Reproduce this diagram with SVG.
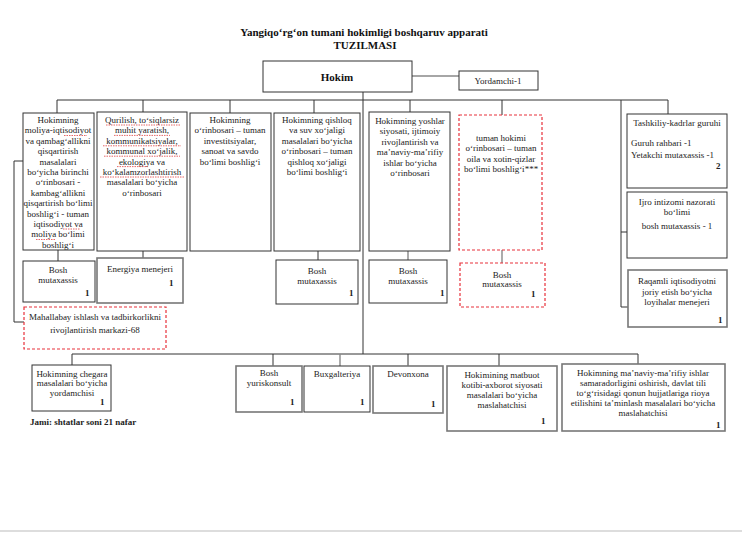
<svg xmlns="http://www.w3.org/2000/svg" width="742" height="533" viewBox="0 0 742 533">
<style>
text{font-family:"Liberation Serif","Times New Roman",serif;font-size:9px;fill:#222}
.c{text-anchor:middle}
.b{font-weight:bold}
.t{font-size:11px;font-weight:bold;text-anchor:middle;fill:#111}
.box{fill:#fff;stroke:#333;stroke-width:1}
.gbox{fill:#fff;stroke:#777;stroke-width:1.6}
.rbox{fill:#fff;stroke:#e8303a;stroke-width:1.2;stroke-dasharray:3 2}
.ln{fill:none;stroke:#333;stroke-width:1}
.gl{fill:none;stroke:#888;stroke-width:1.4}
.sq{fill:none;stroke:#e04040;stroke-width:0.8;stroke-dasharray:1.5 1}
</style>
<defs>
<clipPath id="cp1"><rect x="23" y="113" width="71" height="137"/></clipPath>
</defs>
<rect width="742" height="533" fill="#fff"/>
<line x1="0" y1="531" x2="742" y2="531" stroke="#bbb" stroke-width="1"/>

<g id="title">
<text class="t" x="364" y="36">Yangiqo‘rg‘on  tumani  hokimligi  boshqaruv  apparati</text>
<text class="t" x="365" y="49">TUZILMASI</text>
</g>

<g id="connectors">
<line class="gl" x1="412" y1="76" x2="459" y2="76"/>
<line class="ln" x1="363" y1="92" x2="363" y2="354"/>
<polyline class="ln" points="57,113 57,100 668,100 668,114"/>
<line class="ln" x1="143" y1="100" x2="143" y2="112"/>
<line class="ln" x1="230" y1="100" x2="230" y2="113"/>
<line class="ln" x1="314" y1="100" x2="314" y2="113"/>
<line class="ln" x1="410" y1="100" x2="410" y2="112"/>
<line class="ln" x1="502" y1="100" x2="502" y2="115"/>
<line class="ln" x1="621" y1="100" x2="621" y2="307"/>
<line class="ln" x1="621" y1="232" x2="627" y2="232"/>
<line class="ln" x1="621" y1="307" x2="628" y2="307"/>
<polyline class="ln" points="23,161 14,161 14,322 24,322"/>
<line class="ln" x1="58" y1="250" x2="58" y2="261"/>
<line class="ln" x1="143" y1="251" x2="143" y2="258"/>
<line class="ln" x1="318" y1="251" x2="318" y2="260"/>
<line class="gl" x1="408" y1="251" x2="408" y2="260"/>
<line class="gl" x1="502" y1="250" x2="502" y2="263"/>
<line class="ln" x1="72" y1="365" x2="72" y2="354"/>
<line class="ln" x1="72" y1="354" x2="638" y2="354"/>
<line class="ln" x1="273" y1="354" x2="273" y2="366"/>
<line class="gl" x1="340" y1="354" x2="340" y2="366"/>
<line class="ln" x1="408" y1="354" x2="408" y2="366"/>
<line class="ln" x1="499" y1="354" x2="499" y2="366"/>
<line class="ln" x1="638" y1="354" x2="638" y2="364"/>
</g>

<g id="hokim">
<rect class="box" x="263" y="61" width="149" height="31"/>
<text class="t" x="337" y="81">Hokim</text>
</g>
<g id="yordamchi">
<rect class="box" x="459" y="71" width="79" height="19"/>
<text class="c" x="498" y="84">Yordamchi-1</text>
</g>

<g id="col1">
<rect class="box" x="23" y="113" width="71" height="137"/>
<g clip-path="url(#cp1)">
<text class="c" x="58" y="123">Hokimning</text>
<text class="c" x="58" y="133.4">moliya-iqtisodiyot</text>
<text class="c" x="58" y="143.8">va qambag‘allikni</text>
<text class="c" x="58" y="154.2">qisqartirish</text>
<text class="c" x="58" y="164.6">masalalari</text>
<text class="c" x="58" y="175">bo‘yicha birinchi</text>
<text class="c" x="58" y="185.4">o‘rinbosari -</text>
<text class="c" x="58" y="195.8">kambag‘allikni</text>
<text class="c" x="58" y="206.2">qisqartirish bo‘limi</text>
<text class="c" x="58" y="216.6">boshlig‘i  - tuman</text>
<text class="c" x="58" y="227">iqtisodiyot va</text>
<text class="c" x="58" y="237.4">moliya bo‘limi</text>
<text class="c" x="58" y="247.8">boshlig‘i</text>
</g>
<line class="sq" x1="64" y1="135.5" x2="87" y2="135.5"/>
<line class="sq" x1="63" y1="229" x2="80" y2="229"/>
<line class="sq" x1="36" y1="239.5" x2="56" y2="239.5"/>
</g>

<g id="col2">
<rect class="box" x="97" y="112" width="90" height="139"/>
<text class="c" x="142" y="123">Qurilish,  to‘siqlarsiz</text>
<text class="c" x="142" y="133.4">muhit yaratish,</text>
<text class="c" x="142" y="143.8">kommunikatsiyalar,</text>
<text class="c" x="142" y="154.2">kommunal xo‘jalik,</text>
<text class="c" x="142" y="164.6">ekologiya va</text>
<text class="c" x="142" y="175">ko‘kalamzorlashtirish</text>
<text class="c" x="142" y="185.4">masalalari bo‘yicha</text>
<text class="c" x="142" y="195.8">o‘rinbosari</text>
<line class="sq" x1="106" y1="125" x2="180" y2="125"/>
<line class="sq" x1="114" y1="135.4" x2="170" y2="135.4"/>
<line class="sq" x1="103" y1="145.8" x2="181" y2="145.8"/>
<line class="sq" x1="104" y1="156.2" x2="180" y2="156.2"/>
<line class="sq" x1="117" y1="166.6" x2="148" y2="166.6"/>
<line class="sq" x1="100" y1="177" x2="185" y2="177"/>
</g>

<g id="col3">
<rect class="box" x="190" y="113" width="81" height="138"/>
<text class="c" x="230" y="123">Hokimning</text>
<text class="c" x="230" y="133.4">o‘rinbosari – tuman</text>
<text class="c" x="230" y="143.8">investitsiyalar,</text>
<text class="c" x="230" y="154.2">sanoat va savdo</text>
<text class="c" x="230" y="164.6">bo‘limi boshlig‘i</text>
</g>

<g id="col4">
<rect class="box" x="274" y="113" width="86" height="138"/>
<text class="c" x="317" y="123">Hokimning qishloq</text>
<text class="c" x="317" y="133.4">va suv xo‘jaligi</text>
<text class="c" x="317" y="143.8">masalalari bo‘yicha</text>
<text class="c" x="317" y="154.2">o‘rinbosari – tuman</text>
<text class="c" x="317" y="164.6">qishloq xo‘jaligi</text>
<text class="c" x="317" y="175">bo‘limi boshlig‘i</text>
</g>

<g id="col5">
<rect class="box" x="369" y="112" width="81" height="139"/>
<text class="c" x="410" y="124">Hokimning yoshlar</text>
<text class="c" x="410" y="134.4">siyosati, ijtimoiy</text>
<text class="c" x="410" y="144.8">rivojlantirish va</text>
<text class="c" x="410" y="155.2">ma’naviy-ma’rifiy</text>
<text class="c" x="410" y="165.6">ishlar bo‘yicha</text>
<text class="c" x="410" y="176">o‘rinbosari</text>
</g>

<g id="col6">
<rect class="rbox" x="459" y="115" width="83" height="135"/>
<text class="c" x="501" y="141">tuman hokimi</text>
<text class="c" x="501" y="151.4">o‘rinbosari  – tuman</text>
<text class="c" x="501" y="161.8">oila va xotin-qizlar</text>
<text class="c" x="501" y="172.2">bo‘limi  boshlig‘i***</text>
</g>

<g id="tashkiliy">
<rect class="box" x="627" y="114" width="100" height="74"/>
<text class="c" x="677" y="126">Tashkiliy-kadrlar guruhi</text>
<text x="631" y="146">Guruh rahbari -1</text>
<text x="631" y="158">Yetakchi mutaxassis -1</text>
<text class="b" x="716" y="169">2</text>
</g>

<g id="ijro">
<rect class="box" x="627" y="192" width="100" height="66"/>
<text class="c" x="677" y="205">Ijro intizomi nazorati</text>
<text class="c" x="677" y="215">bo‘limi</text>
<text class="c" x="677" y="229">bosh mutaxassis - 1</text>
</g>

<g id="raqamli">
<rect class="gbox" x="628" y="270" width="99" height="57"/>
<text class="c" x="677" y="284">Raqamli iqtisodiyotni</text>
<text class="c" x="677" y="295">joriy etish bo‘yicha</text>
<text class="c" x="677" y="305">loyihalar menejeri</text>
<text class="b" x="718" y="323">1</text>
</g>

<g id="bosh1">
<rect class="box" x="23" y="261" width="72" height="41"/>
<text class="c" x="58" y="273">Bosh</text>
<text class="c" x="58" y="283">mutaxassis</text>
<text class="b" x="85" y="296">1</text>
</g>

<g id="energiya">
<rect class="gbox" x="97" y="258" width="86" height="45"/>
<text class="c" x="140" y="272">Energiya menejeri</text>
<text class="b" x="169" y="286">1</text>
</g>

<g id="mahallabay">
<rect class="rbox" x="24" y="307" width="142" height="42"/>
<text class="c" x="95" y="320">Mahallabay ishlash va tadbirkorlikni</text>
<text class="c" x="95" y="333">rivojlantirish markazi-68</text>
</g>

<g id="bosh4">
<rect class="box" x="276" y="260" width="82" height="44"/>
<text class="c" x="317" y="274">Bosh</text>
<text class="c" x="317" y="284">mutaxassis</text>
<text class="b" x="349" y="296">1</text>
</g>

<g id="bosh5">
<rect class="box" x="369" y="260" width="78" height="43"/>
<text class="c" x="408" y="274">Bosh</text>
<text class="c" x="408" y="284">mutaxassis</text>
<text class="b" x="440" y="296">1</text>
</g>

<g id="bosh6">
<rect class="rbox" x="460" y="263" width="85" height="44"/>
<text class="c" x="502" y="278">Bosh</text>
<text class="c" x="502" y="287">mutaxassis</text>
<text class="b" x="531" y="297">1</text>
</g>

<g id="chegara">
<rect class="box" x="32" y="365" width="79" height="46"/>
<text class="c" x="72" y="377">Hokimning chegara</text>
<text class="c" x="72" y="386">masalalari  bo‘yicha</text>
<text class="c" x="72" y="396">yordamchisi</text>
<text class="b" x="100" y="405">1</text>
</g>
<text class="b" x="30" y="425">Jami: shtatlar soni 21 nafar</text>

<g id="yuriskonsult">
<rect class="gbox" x="236" y="366" width="66" height="46"/>
<text class="c" x="269" y="376">Bosh</text>
<text class="c" x="269" y="386">yuriskonsult</text>
<text class="b" x="290" y="405">1</text>
</g>

<g id="buxgalteriya">
<rect class="box" x="304" y="366" width="66" height="46"/>
<text class="c" x="337" y="377">Buxgalteriya</text>
<text class="b" x="360" y="405">1</text>
</g>

<g id="devonxona">
<rect class="gbox" x="373" y="366" width="70" height="47"/>
<text class="c" x="408" y="377">Devonxona</text>
<text class="b" x="431" y="407">1</text>
</g>

<g id="matbuot">
<rect class="gbox" x="447" y="366" width="110" height="65"/>
<text class="c" x="502" y="378">Hokimining matbuot</text>
<text class="c" x="502" y="388">kotibi-axborot siyosati</text>
<text class="c" x="502" y="398">masalalari bo‘yicha</text>
<text class="c" x="502" y="408">maslahatchisi</text>
<text class="b" x="541" y="424">1</text>
</g>

<g id="manaviy">
<rect class="gbox" x="562" y="364" width="163" height="67"/>
<text class="c" x="643" y="376">Hokimning ma’naviy-ma’rifiy ishlar</text>
<text class="c" x="643" y="386">samaradorligini oshirish,  davlat tili</text>
<text class="c" x="643" y="396">to‘g‘risidagi  qonun hujjatlariga rioya</text>
<text class="c" x="643" y="406">etilishini  ta’minlash masalalari bo‘yicha</text>
<text class="c" x="643" y="416">maslahatchisi</text>
<text class="b" x="716" y="428">1</text>
</g>
</svg>
